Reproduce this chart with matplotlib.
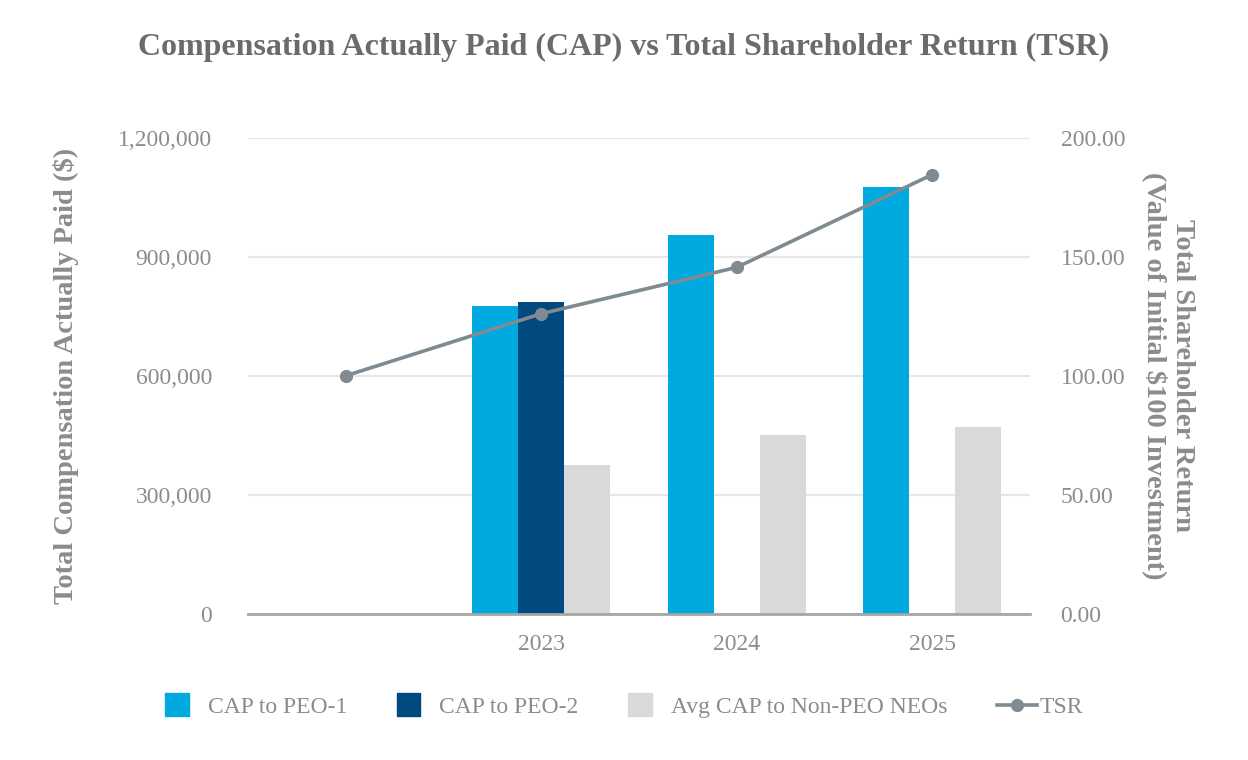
import numpy as np
import matplotlib
matplotlib.use('Agg')
import matplotlib.pyplot as plt
import matplotlib.patches as mpatches
from matplotlib.lines import Line2D
from matplotlib.legend_handler import HandlerPatch
from matplotlib.ticker import FuncFormatter

# Données
annees = ['', '2023', '2024', '2025']
cap_peo1 = [np.nan, 776000, 954000, 1076000]
cap_peo2 = [np.nan, 786000, np.nan, np.nan]
cap_neo = [np.nan, 374000, 451000, 471000]
tsr = [100.0, 126.1, 145.6, 184.6]

c_peo1 = '#00A9E0'
c_peo2 = '#004A80'
c_neo = '#D9D9D9'
c_tsr = '#7F8A91'
c_txt = '#8C8C8C'

plt.rcParams['font.family'] = ['Liberation Serif', 'DejaVu Serif']

fig = plt.figure(figsize=(12.48, 7.6), dpi=100)
ax = fig.add_axes([248/1248, 1 - 613.5/760, (1030-248)/1248, (613.5-138)/760])

x = np.arange(len(annees))
w = 0.235
ax.bar(x - w, cap_peo1, w, color=c_peo1, label='CAP to PEO-1', zorder=2)
ax.bar(x, cap_peo2, w, color=c_peo2, label='CAP to PEO-2', zorder=2)
ax.bar(x + w, cap_neo, w, color=c_neo, label='Avg CAP to Non-PEO NEOs', zorder=2)

ax.set_xlim(-0.5, 3.5)
ax.set_ylim(0, 1200000)
ax.set_yticks([0, 300000, 600000, 900000, 1200000])
ax.yaxis.set_major_formatter(FuncFormatter(lambda v, p: f'{v:,.0f}'))
ax.set_xticks(x)
ax.set_xticklabels(annees)
ax.grid(axis='y', color='#E6E6E6', linewidth=1.5, zorder=0)
ax.set_axisbelow(True)
for s in ['top', 'left', 'right']:
    ax.spines[s].set_visible(False)
ax.spines['bottom'].set_color('#A6A6A6')
ax.spines['bottom'].set_linewidth(2)
ax.tick_params(axis='both', length=0, labelsize=17, labelcolor=c_txt)
ax.tick_params(axis='y', pad=26)
ax.tick_params(axis='x', pad=15)
ax.set_ylabel('Total Compensation Actually Paid ($)', fontsize=20.5, fontweight='bold',
              color=c_txt, labelpad=28)

ax2 = ax.twinx()
ax2.plot(x, tsr, color=c_tsr, linewidth=2.6, marker='o', markersize=8.5, label='TSR', zorder=3)
ax2.set_ylim(0, 200)
ax2.set_yticks([0, 50, 100, 150, 200])
ax2.yaxis.set_major_formatter(FuncFormatter(lambda v, p: f'{v:.2f}'))
for s in ['top', 'left', 'right', 'bottom']:
    ax2.spines[s].set_visible(False)
ax2.tick_params(axis='y', length=0, labelsize=17, labelcolor=c_txt, pad=22)
ax2.set_ylabel('Total Shareholder Return\n(Value of Initial $100 Investment)', fontsize=20.5,
               fontweight='bold', color=c_txt, rotation=270, labelpad=50, linespacing=1.08)

fig.suptitle('Compensation Actually Paid (CAP) vs Total Shareholder Return (TSR)',
             fontsize=23, fontweight='bold', color='#6B6B6B', y=1 - 47/760, va='center')


def carre(legend, orig_handle, xdescent, ydescent, width, height, fontsize):
    cote = 0.6 * width
    return mpatches.Rectangle((0, height/2 - cote/2), cote, cote)


handles = [mpatches.Patch(color=c_peo1), mpatches.Patch(color=c_peo2), mpatches.Patch(color=c_neo),
           Line2D([], [], color=c_tsr, linewidth=2.6, marker='o', markersize=8.5)]
labels = ['CAP to PEO-1', 'CAP to PEO-2', 'Avg CAP to Non-PEO NEOs', 'TSR']
leg = fig.legend(handles, labels, loc='center', bbox_to_anchor=(0.5, 1 - 707/760), ncol=4,
                 frameon=False, fontsize=17, handlelength=1.69, columnspacing=2.1, handletextpad=0.12,
                 handler_map={mpatches.Patch: HandlerPatch(patch_func=carre)})
for t in leg.get_texts():
    t.set_color(c_txt)

plt.savefig('out.png', dpi=100)
